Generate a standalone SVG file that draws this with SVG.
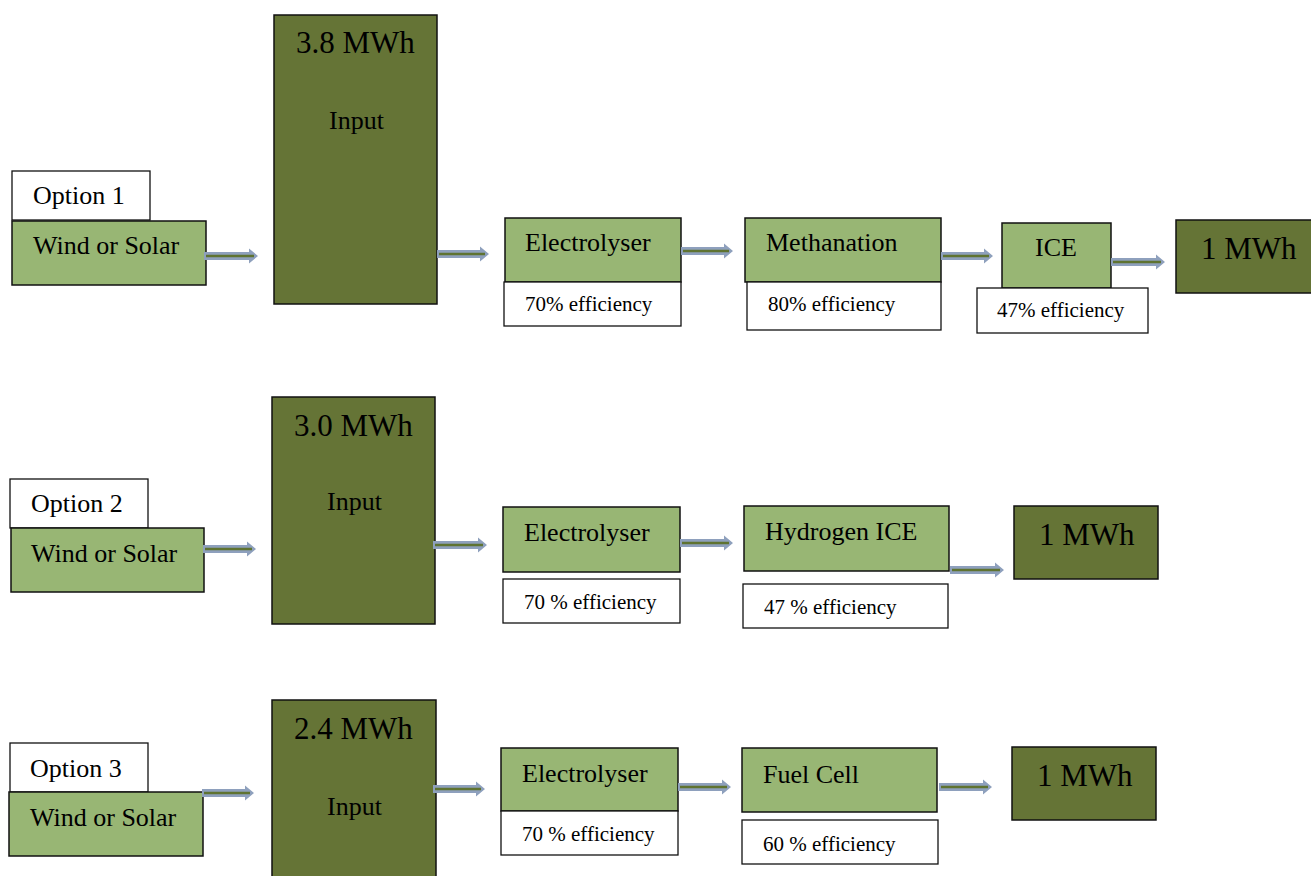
<svg xmlns="http://www.w3.org/2000/svg" width="1311" height="876" viewBox="0 0 1311 876">
<style>
.lg{fill:#98b674;stroke:#111;stroke-width:1.5}
.dk{fill:#657436;stroke:#111;stroke-width:1.5}
.wb{fill:#fff;stroke:#111;stroke-width:1.3}
text{font-family:"Liberation Serif","Times New Roman",serif;fill:#000}
.t22{font-size:26px}
.t24{font-size:26px}
.t28{font-size:31px}
.t18{font-size:21px}
.arr{fill:#8ea0bd}
.arl{stroke:#5f7331;stroke-width:2.5;fill:none}
</style>
<rect width="1311" height="876" fill="#fff"/>

<!-- Option 1 -->
<g id="opt1-label"><rect class="wb" x="12" y="171" width="138" height="49"/><text class="t22" x="33" y="204">Option 1</text></g>
<g id="opt1-source"><rect class="lg" x="12" y="221" width="194" height="64"/><text class="t24" x="33" y="254">Wind or Solar</text></g>
<g id="opt1-input"><rect class="dk" x="274" y="15" width="163" height="289"/><text class="t28" x="296" y="53">3.8 MWh</text><text class="t22" x="329" y="129">Input</text></g>
<g id="opt1-electrolyser"><rect class="lg" x="505" y="218" width="176" height="64"/><text class="t22" x="525" y="251">Electrolyser</text></g>
<g id="opt1-eff1"><rect class="wb" x="504" y="282" width="177" height="44"/><text class="t18" x="525" y="311">70% efficiency</text></g>
<g id="opt1-methanation"><rect class="lg" x="745" y="218" width="196" height="64"/><text class="t22" x="766" y="251">Methanation</text></g>
<g id="opt1-eff2"><rect class="wb" x="747" y="282" width="194" height="48"/><text class="t18" x="768" y="311">80% efficiency</text></g>
<g id="opt1-ice"><rect class="lg" x="1002" y="223" width="109" height="65"/><text class="t22" x="1035" y="256">ICE</text></g>
<g id="opt1-eff3"><rect class="wb" x="977" y="288" width="171" height="45"/><text class="t18" x="997" y="317">47% efficiency</text></g>
<g id="opt1-output"><rect class="dk" x="1176" y="220" width="140" height="73"/><text class="t28" x="1201" y="259">1 MWh</text></g>

<!-- Option 2 -->
<g id="opt2-label"><rect class="wb" x="10" y="479" width="138" height="49"/><text class="t22" x="31" y="512">Option 2</text></g>
<g id="opt2-source"><rect class="lg" x="11" y="528" width="193" height="64"/><text class="t24" x="31" y="562">Wind or Solar</text></g>
<g id="opt2-input"><rect class="dk" x="272" y="397" width="163" height="227"/><text class="t28" x="294" y="436">3.0 MWh</text><text class="t22" x="327" y="510">Input</text></g>
<g id="opt2-electrolyser"><rect class="lg" x="503" y="507" width="177" height="65"/><text class="t22" x="524" y="541">Electrolyser</text></g>
<g id="opt2-eff1"><rect class="wb" x="503" y="579" width="177" height="44"/><text class="t18" x="524" y="609">70 % efficiency</text></g>
<g id="opt2-h2ice"><rect class="lg" x="744" y="506" width="205" height="65"/><text class="t22" x="765" y="540">Hydrogen ICE</text></g>
<g id="opt2-eff2"><rect class="wb" x="743" y="584" width="205" height="44"/><text class="t18" x="764" y="614">47 % efficiency</text></g>
<g id="opt2-output"><rect class="dk" x="1014" y="506" width="144" height="73"/><text class="t28" x="1039" y="545">1 MWh</text></g>

<!-- Option 3 -->
<g id="opt3-label"><rect class="wb" x="10" y="743" width="138" height="49"/><text class="t22" x="30" y="777">Option 3</text></g>
<g id="opt3-source"><rect class="lg" x="9" y="792" width="194" height="64"/><text class="t24" x="30" y="826">Wind or Solar</text></g>
<g id="opt3-input"><rect class="dk" x="272" y="700" width="164" height="190"/><text class="t28" x="294" y="739">2.4 MWh</text><text class="t22" x="327" y="815">Input</text></g>
<g id="opt3-electrolyser"><rect class="lg" x="501" y="748" width="177" height="63"/><text class="t22" x="522" y="782">Electrolyser</text></g>
<g id="opt3-eff1"><rect class="wb" x="501" y="811" width="177" height="44"/><text class="t18" x="522" y="841">70 % efficiency</text></g>
<g id="opt3-fuelcell"><rect class="lg" x="742" y="748" width="195" height="64"/><text class="t22" x="763" y="783">Fuel Cell</text></g>
<g id="opt3-eff2"><rect class="wb" x="742" y="820" width="196" height="44"/><text class="t18" x="763" y="851">60 % efficiency</text></g>
<g id="opt3-output"><rect class="dk" x="1012" y="747" width="144" height="73"/><text class="t28" x="1037" y="786">1 MWh</text></g>

<!-- Connectors -->
<g id="connectors">
<path class="arr" d="M204,252H249V248.5L258,256L249,263.5V260H204Z"/><path class="arl" d="M206,256H254"/>
<path class="arr" d="M437,250H480V246.5L489,254L480,261.5V258H437Z"/><path class="arl" d="M439,254H485"/>
<path class="arr" d="M681,247H724V243.5L733,251L724,258.5V255H681Z"/><path class="arl" d="M683,251H729"/>
<path class="arr" d="M941,252H984V248.5L993,256L984,263.5V260H941Z"/><path class="arl" d="M943,256H989"/>
<path class="arr" d="M1111,258H1156V254.5L1165,262L1156,269.5V266H1111Z"/><path class="arl" d="M1113,262H1161"/>

<path class="arr" d="M203,545H247V541.5L256,549L247,556.5V553H203Z"/><path class="arl" d="M205,549H252"/>
<path class="arr" d="M433,541H478V537.5L487,545L478,552.5V549H433Z"/><path class="arl" d="M435,545H483"/>
<path class="arr" d="M680,539H724V535.5L733,543L724,550.5V547H680Z"/><path class="arl" d="M682,543H729"/>
<path class="arr" d="M950,566H995V562.5L1004,570L995,577.5V574H950Z"/><path class="arl" d="M952,570H1000"/>

<path class="arr" d="M202,789H245V785.5L254,793L245,800.5V797H202Z"/><path class="arl" d="M204,793H250"/>
<path class="arr" d="M433,785H476V781.5L485,789L476,796.5V793H433Z"/><path class="arl" d="M435,789H481"/>
<path class="arr" d="M678,783H722V779.5L731,787L722,794.5V791H678Z"/><path class="arl" d="M680,787H727"/>
<path class="arr" d="M939,783H983V779.5L992,787L983,794.5V791H939Z"/><path class="arl" d="M941,787H988"/>
</g>
</svg>
